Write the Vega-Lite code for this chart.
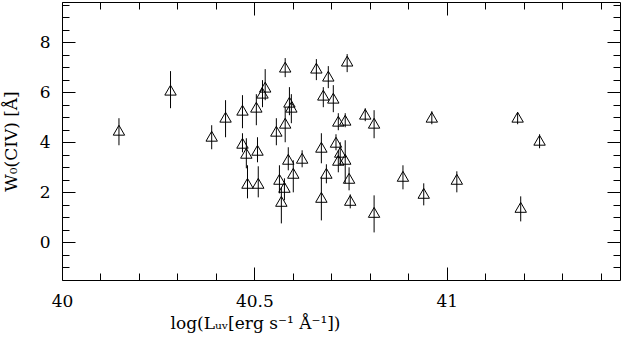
{
  "$schema": "https://vega.github.io/schema/vega-lite/v6.json",
  "width": 558,
  "height": 278,
  "autosize": {"type": "none"},
  "padding": {"left": 62, "top": 2, "right": 1, "bottom": 63},
  "background": "white",
  "config": {
    "view": {"stroke": "black", "strokeWidth": 1},
    "axis": {
      "domain": false,
      "tickColor": "black",
      "tickWidth": 1,
      "grid": false,
      "labelFont": "DejaVu Serif",
      "labelFontSize": 17,
      "labelColor": "black",
      "labelFlush": false,
      "labelOverlap": false,
      "titleFont": "DejaVu Serif",
      "titleFontSize": 17,
      "titleFontWeight": "normal",
      "titleColor": "black"
    }
  },
  "data": {
    "values": [
      {"logL": 40.148, "W": 4.48, "Whi": 4.96, "Wlo": 3.88},
      {"logL": 40.282, "W": 6.08, "Whi": 6.84, "Wlo": 5.36},
      {"logL": 40.389, "W": 4.24, "Whi": 4.68, "Wlo": 3.72},
      {"logL": 40.425, "W": 5.0, "Whi": 5.68, "Wlo": 4.2},
      {"logL": 40.469, "W": 5.28, "Whi": 5.88, "Wlo": 4.56},
      {"logL": 40.505, "W": 5.4, "Whi": 5.92, "Wlo": 4.68},
      {"logL": 40.528, "W": 6.2, "Whi": 6.92, "Wlo": 5.68},
      {"logL": 40.521, "W": 5.96, "Whi": 6.48, "Wlo": 5.4},
      {"logL": 40.58, "W": 7.0, "Whi": 7.36, "Wlo": 6.6},
      {"logL": 40.661, "W": 6.96, "Whi": 7.32, "Wlo": 6.48},
      {"logL": 40.692, "W": 6.64, "Whi": 7.04, "Wlo": 6.16},
      {"logL": 40.741, "W": 7.24, "Whi": 7.52, "Wlo": 6.8},
      {"logL": 40.679, "W": 5.88, "Whi": 6.2, "Wlo": 5.4},
      {"logL": 40.705, "W": 5.76, "Whi": 6.28, "Wlo": 5.2},
      {"logL": 40.591, "W": 5.6, "Whi": 6.2, "Wlo": 5.08},
      {"logL": 40.596, "W": 5.4, "Whi": 5.92, "Wlo": 4.76},
      {"logL": 40.58, "W": 4.76, "Whi": 5.4, "Wlo": 4.0},
      {"logL": 40.557, "W": 4.44, "Whi": 4.96, "Wlo": 3.88},
      {"logL": 40.718, "W": 4.84, "Whi": 5.16, "Wlo": 4.48},
      {"logL": 40.736, "W": 4.88, "Whi": 5.16, "Wlo": 4.6},
      {"logL": 40.788, "W": 5.12, "Whi": 5.36, "Wlo": 4.84},
      {"logL": 40.811, "W": 4.76, "Whi": 5.28, "Wlo": 4.16},
      {"logL": 40.469, "W": 3.96, "Whi": 4.36, "Wlo": 3.6},
      {"logL": 40.479, "W": 3.56, "Whi": 4.16, "Wlo": 2.96},
      {"logL": 40.482, "W": 2.36, "Whi": 3.08, "Wlo": 1.76},
      {"logL": 40.508, "W": 3.68, "Whi": 4.2, "Wlo": 3.2},
      {"logL": 40.51, "W": 2.36, "Whi": 3.04, "Wlo": 1.8},
      {"logL": 40.588, "W": 3.32, "Whi": 3.8, "Wlo": 2.88},
      {"logL": 40.601, "W": 2.76, "Whi": 3.28, "Wlo": 2.0},
      {"logL": 40.624, "W": 3.36, "Whi": 3.68, "Wlo": 3.0},
      {"logL": 40.565, "W": 2.52, "Whi": 3.08, "Wlo": 1.96},
      {"logL": 40.578, "W": 2.2, "Whi": 2.56, "Wlo": 1.68},
      {"logL": 40.57, "W": 1.64, "Whi": 2.2, "Wlo": 0.76},
      {"logL": 40.674, "W": 3.8, "Whi": 4.36, "Wlo": 3.16},
      {"logL": 40.712, "W": 4.0, "Whi": 4.32, "Wlo": 3.68},
      {"logL": 40.723, "W": 3.6, "Whi": 4.0, "Wlo": 3.08},
      {"logL": 40.718, "W": 3.28, "Whi": 3.68, "Wlo": 2.8},
      {"logL": 40.736, "W": 3.32, "Whi": 4.08, "Wlo": 2.36},
      {"logL": 40.687, "W": 2.76, "Whi": 3.12, "Wlo": 2.36},
      {"logL": 40.746, "W": 2.56, "Whi": 3.0, "Wlo": 2.08},
      {"logL": 40.674, "W": 1.8, "Whi": 2.6, "Wlo": 0.88},
      {"logL": 40.749, "W": 1.68, "Whi": 1.92, "Wlo": 1.36},
      {"logL": 40.811, "W": 1.2, "Whi": 1.88, "Wlo": 0.4},
      {"logL": 40.886, "W": 2.64, "Whi": 3.08, "Wlo": 2.12},
      {"logL": 40.94, "W": 1.96, "Whi": 2.36, "Wlo": 1.48},
      {"logL": 41.026, "W": 2.52, "Whi": 2.84, "Wlo": 2.0},
      {"logL": 40.961, "W": 5.0, "Whi": 5.24, "Wlo": 4.72},
      {"logL": 41.184, "W": 5.0, "Whi": 5.2, "Wlo": 4.72},
      {"logL": 41.241, "W": 4.08, "Whi": 4.32, "Wlo": 3.76},
      {"logL": 41.192, "W": 1.4, "Whi": 1.84, "Wlo": 0.84}
    ]
  },
  "layer": [
    {
      "mark": {"type": "rule", "color": "black", "strokeWidth": 1},
      "encoding": {
        "x": {
          "field": "logL", "type": "quantitative",
          "scale": {"domain": [40, 41.45], "nice": false, "zero": false},
          "axis": {
            "orient": "bottom",
            "title": "log(Lᵤᵥ[erg s⁻¹ Å⁻¹])",
            "values": [40, 40.5, 41],
            "labelExpr": "datum.value + ''",
            "offset": -13,
            "tickSize": 13,
            "labelPadding": 13,
            "titleX": 193,
            "titleY": 61,
            "titleBaseline": "alphabetic",
            "titleAlign": "center"
          }
        },
        "y": {
          "field": "Whi", "type": "quantitative",
          "scale": {"domain": [-1.5, 9.6], "nice": false, "zero": false},
          "axis": {
            "orient": "left",
            "title": "W₀(CIV)  [Å]",
            "values": [0, 2, 4, 6, 8],
            "offset": -13,
            "tickSize": 13,
            "labelPadding": 12,
            "titleX": -59,
            "titleBaseline": "alphabetic"
          }
        },
        "y2": {"field": "Wlo"}
      }
    },
    {
      "mark": {"type": "point", "shape": "triangle-up", "filled": false, "stroke": "black", "strokeWidth": 1, "size": 130, "opacity": 1},
      "encoding": {
        "x": {
          "field": "logL", "type": "quantitative",
          "scale": {"domain": [40, 41.45], "nice": false, "zero": false},
          "axis": {"orient": "top", "title": null, "labels": false, "values": [40, 40.5, 41], "offset": -13, "tickSize": 13}
        },
        "y": {
          "field": "W", "type": "quantitative",
          "scale": {"domain": [-1.5, 9.6], "nice": false, "zero": false},
          "axis": {"orient": "right", "title": null, "labels": false, "values": [0, 2, 4, 6, 8], "offset": -13, "tickSize": 13}
        }
      }
    },
    {
      "mark": {"type": "point", "shape": "triangle-up", "opacity": 0},
      "encoding": {
        "x": {
          "field": "logL", "type": "quantitative",
          "scale": {"domain": [40, 41.45], "nice": false, "zero": false},
          "axis": {"orient": "bottom", "title": null, "labels": false, "offset": -7, "tickSize": 7,
            "values": [40.1, 40.2, 40.3, 40.4, 40.6, 40.7, 40.8, 40.9, 41.1, 41.2, 41.3, 41.4]}
        },
        "y": {
          "field": "W", "type": "quantitative",
          "scale": {"domain": [-1.5, 9.6], "nice": false, "zero": false},
          "axis": {"orient": "left", "title": null, "labels": false, "offset": -7, "tickSize": 7,
            "values": [-1, -0.5, 0.5, 1, 1.5, 2.5, 3, 3.5, 4.5, 5, 5.5, 6.5, 7, 7.5, 8.5, 9, 9.5]}
        }
      }
    },
    {
      "mark": {"type": "point", "shape": "triangle-up", "opacity": 0},
      "encoding": {
        "x": {
          "field": "logL", "type": "quantitative",
          "scale": {"domain": [40, 41.45], "nice": false, "zero": false},
          "axis": {"orient": "top", "title": null, "labels": false, "offset": -7, "tickSize": 7,
            "values": [40.1, 40.2, 40.3, 40.4, 40.6, 40.7, 40.8, 40.9, 41.1, 41.2, 41.3, 41.4]}
        },
        "y": {
          "field": "W", "type": "quantitative",
          "scale": {"domain": [-1.5, 9.6], "nice": false, "zero": false},
          "axis": {"orient": "right", "title": null, "labels": false, "offset": -7, "tickSize": 7,
            "values": [-1, -0.5, 0.5, 1, 1.5, 2.5, 3, 3.5, 4.5, 5, 5.5, 6.5, 7, 7.5, 8.5, 9, 9.5]}
        }
      }
    }
  ],
  "resolve": {"axis": {"x": "independent", "y": "independent"}}
}
